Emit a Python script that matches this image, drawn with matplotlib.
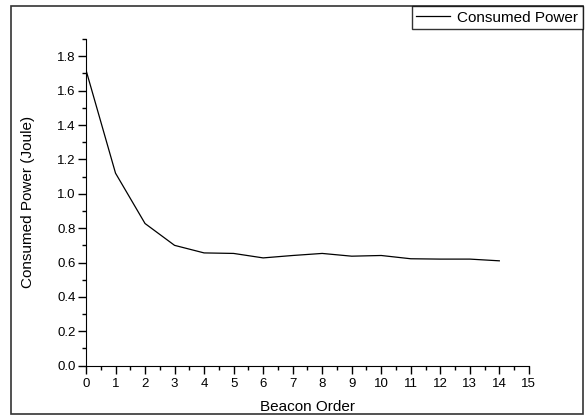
import matplotlib
matplotlib.use("Agg")
import matplotlib.pyplot as plt
from matplotlib.patches import Rectangle
from matplotlib.ticker import MultipleLocator

plt.rcParams['font.family'] = ['Liberation Sans', 'DejaVu Sans']

# Data
beacon_order = [0, 1, 2, 3, 4, 5, 6, 7, 8, 9, 10, 11, 12, 13, 14]
consumed_power = [1.72, 1.12, 0.827, 0.70, 0.656, 0.653, 0.627, 0.641, 0.653,
                  0.637, 0.641, 0.622, 0.620, 0.620, 0.610]

fig = plt.figure(figsize=(5.85, 4.16), dpi=100)
ax = fig.add_axes([0.147, 0.121, 0.757, 0.785])

ax.plot(beacon_order, consumed_power, color='black', linewidth=0.9, label='Consumed Power')

ax.set_xlim(0, 15)
ax.set_ylim(0, 1.9)
ax.xaxis.set_major_locator(MultipleLocator(1))
ax.xaxis.set_minor_locator(MultipleLocator(0.5))
ax.yaxis.set_major_locator(MultipleLocator(0.2))
ax.yaxis.set_minor_locator(MultipleLocator(0.1))
ax.yaxis.set_major_formatter(plt.FormatStrFormatter('%.1f'))
ax.tick_params(which='major', direction='out', length=5.5, width=1, labelsize=9.5)
ax.tick_params(which='minor', direction='out', length=3, width=1)
ax.tick_params(axis='x', which='major', pad=3.5)
ax.tick_params(axis='y', which='major', pad=2)
ax.spines['top'].set_visible(False)
ax.spines['right'].set_visible(False)
ax.set_xlabel("Beacon Order", fontsize=11, va='center')
ax.set_ylabel("Consumed Power (Joule)", fontsize=11, va='center')
ax.xaxis.set_label_coords(0.5, -0.127)
ax.yaxis.set_label_coords(-0.131, 0.5)

# outer frame
fig.patches.append(Rectangle((11 / 585, 2 / 416), 572 / 585, 408 / 416, transform=fig.transFigure,
                             fill=False, edgecolor='#333333', linewidth=1.2))

leg = fig.legend(loc='upper right', bbox_to_anchor=(583 / 585, 1 - 6 / 416), fontsize=11,
                 frameon=True, fancybox=False, edgecolor='black', borderpad=0.3,
                 handlelength=2.2, handletextpad=0.5, borderaxespad=0)
leg.get_frame().set_linewidth(1.0)

fig.savefig("out.png", dpi=100)
